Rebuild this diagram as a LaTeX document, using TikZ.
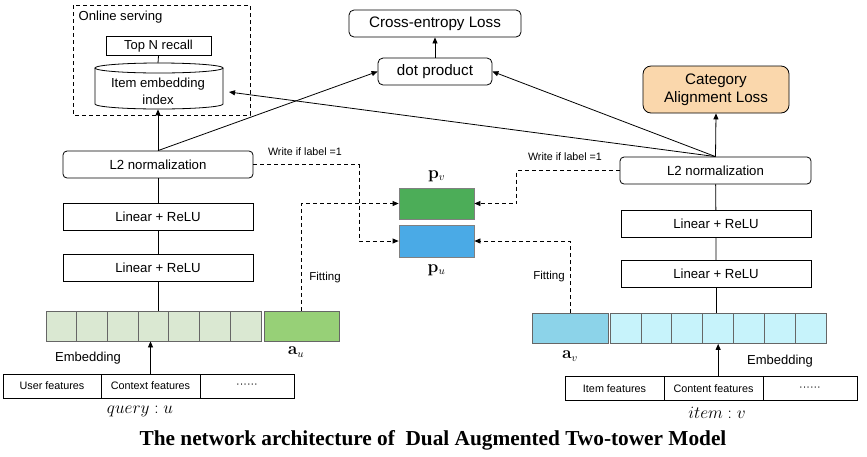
\documentclass[tikz,border=0pt]{standalone}
\usepackage[no-math]{fontspec}
\setmainfont{Liberation Sans}
\newfontfamily\titlefont{Liberation Serif}
\usetikzlibrary{arrows.meta}

\begin{document}
\begin{tikzpicture}[x=1pt, y=-1pt, line width=0.8pt, >={Triangle[length=6pt, width=5pt]},
    layer/.style={draw, minimum width=190pt, minimum height=27pt,
      font=\fontsize{13.2}{15}\selectfont},
    rlayer/.style={layer, rounded corners=4pt},
    loss/.style={draw, rounded corners=5pt, minimum height=27pt,
      font=\fontsize{15.2}{18}\selectfont},
    cell/.style={draw=black!60, minimum width=30.7pt, minimum height=30pt},
    feat/.style={draw, minimum height=24pt, font=\fontsize{10.8}{12}\selectfont},
    proto/.style={draw=black!50, minimum width=75pt, minimum height=31pt},
    note/.style={font=\fontsize{10.7}{12}\selectfont},
    lbl/.style={font=\fontsize{13}{15}\selectfont},
    mlbl/.style={font=\fontsize{16}{18}\selectfont},
    dashline/.style={dash pattern=on 4pt off 3pt},
  ]
  \definecolor{embu}{HTML}{DAE8D2}
  \definecolor{embv}{HTML}{C7F3FB}
  \definecolor{augu}{HTML}{97D077}
  \definecolor{augv}{HTML}{8CD3E9}
  \definecolor{protov}{HTML}{4CAD58}
  \definecolor{protou}{HTML}{4AAAE6}
  \definecolor{catfill}{HTML}{FAD7AC}
  \useasboundingbox (0,0) rectangle (867,456);

  % ---------------- online serving ----------------------------------
  \draw[dashline] (73,5) rectangle (250,115);
  \node[anchor=west, font=\fontsize{13.1}{15}\selectfont] (serving) at (75,17) {Online serving};
  \node[draw, minimum width=105pt, minimum height=18pt,
    font=\fontsize{13}{15}\selectfont] (topn) at (158.5,46) {Top N recall};
  \draw (95,68) -- (95,104) arc[start angle=180, end angle=360, x radius=64pt, y radius=5pt]
    -- (223,68);
  \draw (159,68) ellipse [x radius=64pt, y radius=5pt];
  \node[minimum width=128pt, minimum height=35pt, align=center,
    font=\fontsize{13.1}{17}\selectfont] (index) at (158,91.5) {Item embedding\\index};
  \coordinate (indexin) at (229,92);
  \draw (topn.south) -- (158,63);

  % ---------------- losses ------------------------------------------
  \node[loss, minimum width=172pt] (ce) at (435,23.5) {Cross-entropy Loss};
  \node[loss, minimum width=114pt] (dot) at (435,71.5) {dot product};
  \node[loss, fill=catfill, minimum width=146pt, minimum height=47pt, rounded corners=8pt,
    align=center] (cat) at (716,89.5) {Category\\Alignment Loss};
  \draw[->] (dot) -- (ce);

  % ---------------- query tower -------------------------------------
  \node[rlayer] (l2u) at (158,164.5) {L2 normalization};
  \node[layer] (lin1u) at (158,217) {Linear + ReLU};
  \node[layer] (lin2u) at (158,267.5) {Linear + ReLU};
  \foreach \i in {1,...,7}
    \node[cell, fill=embu] (eu\i) at ({46+30.7*(\i-0.5)},326) {};
  \node[cell, fill=augu, draw=black!60, minimum width=75pt] (au) at (301.5,326) {};
  \node[feat, minimum width=98pt] (userf) at (52,386) {User features};
  \node[feat, minimum width=99pt] (ctxf) at (150.5,386) {Context features};
  \node[feat, minimum width=94pt] (moreu) at (247,386) {\textperiodcentered\textperiodcentered\textperiodcentered\textperiodcentered\textperiodcentered\textperiodcentered};
  \node[lbl] (embu) at (88,358) {Embedding};
  \node[mlbl] (aulbl) at (296,352) {$\mathbf{a}_u$};
  \node[mlbl] (query) at (140,411) {$query : u$};
  \draw (l2u) -- (lin1u) (lin1u) -- (lin2u);
  \draw (lin2u.south) -- (lin2u.south |- eu4.north);
  \draw[->] (ctxf.north) -- (ctxf.north |- eu4.south);
  \draw[->] (l2u.north) -- (index.south);
  \draw[->] (l2u.north) -- (dot.west);

  % ---------------- item tower --------------------------------------
  \node[rlayer, minimum width=191pt] (l2v) at (715.5,170.5) {L2 normalization};
  \node[layer] (lin1v) at (716,224) {Linear + ReLU};
  \node[layer] (lin2v) at (716,274) {Linear + ReLU};
  \foreach \i in {1,...,7}
    \node[cell, fill=embv, minimum width=30.9pt] (ev\i) at ({610+30.9*(\i-0.5)},328.5) {};
  \node[cell, fill=augv, minimum width=76pt] (av) at (570,328.5) {};
  \node[feat, minimum width=99pt] (itemf) at (614.5,388.5) {Item features};
  \node[feat, minimum width=99pt] (contf) at (713.5,388.5) {Content features};
  \node[feat, minimum width=94pt] (morev) at (810,388.5) {\textperiodcentered\textperiodcentered\textperiodcentered\textperiodcentered\textperiodcentered\textperiodcentered};
  \node[lbl] (embv) at (780,361) {Embedding};
  \node[mlbl] (avlbl) at (570,356) {$\mathbf{a}_v$};
  \node[mlbl] (item) at (717,413) {$item : v$};
  \draw (l2v) -- (lin1v) (lin1v) -- (lin2v);
  \draw (lin2v.south) -- (lin2v.south |- ev4.north);
  \draw[->] (ev4.south |- contf.north) -- (ev4.south);
  \draw[->] (l2v.north) -- (cat.south);
  \draw[->] (l2v.north) -- (dot.east);
  \draw[->] (l2v.north) -- (indexin);

  % ---------------- augmented vectors -------------------------------
  \node[proto, fill=protov] (pv) at (436.5,203.5) {};
  \node[proto, fill=protou, minimum height=32pt] (pu) at (436.5,241) {};
  \node[mlbl] (pvlbl) at (436.5,176) {$\mathbf{p}_v$};
  \node[mlbl] (pulbl) at (436.5,270) {$\mathbf{p}_u$};
  \draw[dashline, ->] (l2u.east) -- ++(106,0) |- (pu.west);
  \draw[dashline, ->] (l2v.west) -- ++(-103,0) |- (pv.east);
  \draw[dashline, ->] (au.north) |- (pv.west);
  \draw[dashline, ->] (av.north) |- (pu.east);
  \node[note] (writeu) at (305,152) {Write if label =1};
  \node[note] (writev) at (565,157) {Write if label =1};
  \node[note, font=\fontsize{11.5}{13}\selectfont] (fitu) at (325,278) {Fitting};
  \node[note, font=\fontsize{11.5}{13}\selectfont] (fitv) at (549,277) {Fitting};

  \node[font=\titlefont\bfseries\fontsize{21.3}{24}\selectfont] (title) at (433,440)
    {The network architecture of\ \ Dual Augmented Two-tower Model};
\end{tikzpicture}
\end{document}
